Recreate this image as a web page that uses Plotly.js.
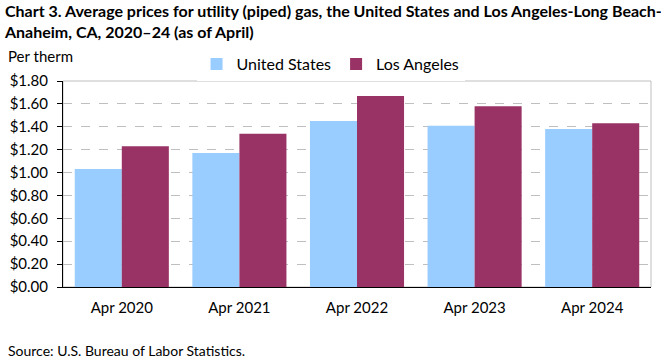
<!DOCTYPE html>
<html><head><meta charset="utf-8">
<script src="https://cdn.plot.ly/plotly-3.0.1.min.js"></script>
<style>html,body{margin:0;padding:0;background:#fff}#c{width:661px;height:361px}</style>
</head><body><div id="c"></div>
<script>
const categories = ["Apr 2020", "Apr 2021", "Apr 2022", "Apr 2023", "Apr 2024"];
const unitedStates = [1.03, 1.17, 1.45, 1.41, 1.38];
const losAngeles = [1.23, 1.34, 1.67, 1.58, 1.43];
const yTicks = [0, 0.2, 0.4, 0.6, 0.8, 1.0, 1.2, 1.4, 1.6, 1.8];

const FONT = "Lato, 'Open Sans', sans-serif";
const data = [
  {type: "bar", name: "United States", x: categories, y: unitedStates, marker: {color: "#99ccff"}, hoverinfo: "skip"},
  {type: "bar", name: "Los Angeles", x: categories, y: losAngeles, marker: {color: "#993366"}, hoverinfo: "skip"}
];
const layout = {
  width: 661, height: 361,
  margin: {l: 63, r: 10, t: 81, b: 74},
  paper_bgcolor: "#fff", plot_bgcolor: "#fff",
  font: {family: FONT, color: "#000", size: 15},
  barmode: "group", bargap: 0.2, bargroupgap: 0,
  showlegend: true,
  legend: {orientation: "h", x: 0.455, xanchor: "center", y: 1.0, yanchor: "bottom", font: {size: 16, family: FONT}, itemwidth: 30, traceorder: "normal"},
  xaxis: {
    showline: true, linecolor: "#000", linewidth: 1, ticks: "", showgrid: false,
    tickfont: {size: 15, family: FONT}, ticklabelstandoff: 7
  },
  yaxis: {
    range: [0, 1.8], tickvals: yTicks, tickformat: "$.2f",
    showline: true, linecolor: "#000", linewidth: 1,
    ticks: "outside", ticklen: 5, tickcolor: "#000",
    showgrid: true, gridcolor: "#bfbfbf", griddash: "dash", zeroline: false,
    tickfont: {size: 15, family: FONT}, ticklabelstandoff: 6
  },
  shapes: [{type: "rect", xref: "paper", yref: "paper", x0: 0, x1: 1, y0: 0, y1: 1, line: {color: "#bfbfbf", width: 1}, layer: "below"}],
  annotations: [
    {text: "<b>Chart 3. Average prices for utility (piped) gas, the United States and Los Angeles-Long Beach-<br>Anaheim, CA, 2020–24 (as of April)</b>", xref: "paper", yref: "paper", x: -61/588, y: 1 + 82/206, xanchor: "left", yanchor: "top", align: "left", showarrow: false, font: {size: 16, family: FONT}},
    {text: "Per therm", xref: "paper", yref: "paper", x: -57/588, y: 1 + 25/206, xanchor: "left", yanchor: "middle", showarrow: false, font: {size: 15, family: FONT}},
    {text: "Source: U.S. Bureau of Labor Statistics.", xref: "paper", yref: "paper", x: -57/588, y: -63/206, xanchor: "left", yanchor: "middle", showarrow: false, font: {size: 14, family: FONT}}
  ]
};
Plotly.newPlot("c", data, layout, {displayModeBar: false, staticPlot: true});
</script></body></html>
